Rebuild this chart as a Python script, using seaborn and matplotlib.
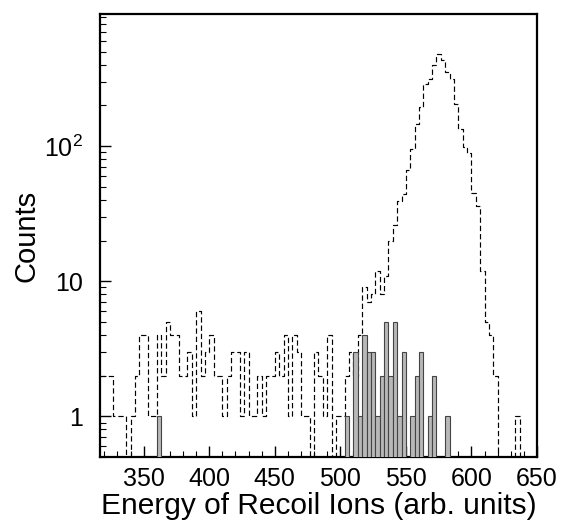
import numpy as np
import pandas as pd
import matplotlib
matplotlib.use("Agg")
import matplotlib.pyplot as plt
import seaborn as sns
from matplotlib.ticker import FixedLocator, FixedFormatter, MultipleLocator, LogLocator, NullFormatter

# ---------------- data ----------------
BIN_START = 950.0 / 3.0      # lower edge of first bin
BIN_WIDTH = 10.0 / 3.0       # bin width (arb. units)
N_BINS = 100

# all events (dashed histogram), counts per bin
all_counts = [
    2, 2, 2, 1, 1, 1, 0, 1, 2, 4,
    4, 1, 1, 4, 2, 5, 4, 4, 2, 2,
    3, 1, 6, 2, 3, 4, 2, 2, 1, 2,
    3, 3, 1, 3, 1, 1, 2, 1, 2, 2,
    3, 2, 4, 1, 4, 3, 1, 1, 0, 3,
    2, 1, 4, 0, 1, 1, 2, 3, 2, 4,
    9, 7, 8, 12, 8, 11, 20, 26, 39, 44,
    66, 95, 145, 194, 288, 312, 400, 479, 437, 351,
    312, 204, 133, 98, 89, 45, 36, 12, 5, 4,
    2, 0, 0, 0, 0, 1, 0, 0, 0, 0,
]

# selected events (grey filled histogram), counts per bin
sel_counts = [
    0, 0, 0, 0, 0, 0, 0, 0, 0, 0,
    0, 0, 0, 1, 0, 0, 0, 0, 0, 0,
    0, 0, 0, 0, 0, 0, 0, 0, 0, 0,
    0, 0, 0, 0, 0, 0, 0, 0, 0, 0,
    0, 0, 0, 0, 0, 0, 0, 0, 0, 0,
    0, 0, 0, 0, 0, 0, 1, 0, 3, 1,
    4, 3, 3, 1, 2, 5, 2, 5, 1, 3,
    0, 1, 2, 3, 0, 1, 2, 0, 0, 1,
    0, 0, 0, 0, 0, 0, 0, 0, 0, 0,
    0, 0, 0, 0, 0, 0, 0, 0, 0, 0,
]

y_tick_values = [1, 10, 100]
y_tick_labels = ["1", "10", r"$\mathregular{10^2}$"]
x_tick_values = [350, 400, 450, 500, 550, 600, 650]

BIN_END = BIN_START + BIN_WIDTH * N_BINS
centers = BIN_START + BIN_WIDTH * (np.arange(N_BINS) + 0.5)

df_all = pd.DataFrame({"energy": centers, "counts": all_counts})
sel_mask = np.array(sel_counts) > 0
df_sel = pd.DataFrame({"energy": centers[sel_mask],
                       "counts": np.array(sel_counts)[sel_mask]})

# ---------------- style ----------------
sns.set_style("ticks")
plt.rcParams["font.family"] = ["Liberation Sans", "DejaVu Sans"]
plt.rcParams["mathtext.default"] = "regular"
for key in ["text.color", "axes.labelcolor", "xtick.color", "ytick.color", "axes.edgecolor"]:
    plt.rcParams[key] = "black"

fig = plt.figure(figsize=(5.61, 5.31), dpi=100)
ax = fig.add_axes([100 / 561, 1 - 457 / 531, (537 - 100) / 561, (457 - 14) / 531])
ax.set_yscale("log")

sns.histplot(data=df_all, x="energy", weights="counts",
             binwidth=BIN_WIDTH, binrange=(BIN_START, BIN_END),
             element="step", fill=False, color="black",
             linewidth=0.85, linestyle=(0, (4.5, 2.5)), ax=ax, zorder=2)

sns.histplot(data=df_sel, x="energy", weights="counts",
             binwidth=BIN_WIDTH, binrange=(BIN_START, BIN_END),
             element="bars", fill=True, color="#b8b8b8", alpha=1.0,
             edgecolor="#444444", linewidth=0.8, ax=ax, zorder=3)

ax.set_xlim(BIN_START, 650)
ax.set_ylim(0.5, 950)

ax.xaxis.set_major_locator(FixedLocator(x_tick_values))
ax.xaxis.set_minor_locator(MultipleLocator(10))
ax.yaxis.set_major_locator(FixedLocator(y_tick_values))
ax.yaxis.set_major_formatter(FixedFormatter(y_tick_labels))
ax.yaxis.set_minor_locator(LogLocator(base=10, subs=np.arange(2, 10)))
ax.yaxis.set_minor_formatter(NullFormatter())

ax.tick_params(axis="both", which="major", direction="in", length=8, width=1.0,
               labelsize=18, top=False, right=False, colors="black")
ax.tick_params(axis="both", which="minor", direction="in", length=4, width=0.8,
               top=False, right=False, colors="black")
ax.tick_params(axis="x", which="major", pad=7)
ax.tick_params(axis="y", which="major", pad=12)

for s in ax.spines.values():
    s.set_linewidth(1.6)
    s.set_color("black")

ax.set_xlabel("Energy of Recoil Ions (arb. units)", fontsize=21.5, labelpad=1, color="black")
ax.set_ylabel("Counts", fontsize=21, labelpad=3, color="black")

fig.savefig("out.png", dpi=100)
